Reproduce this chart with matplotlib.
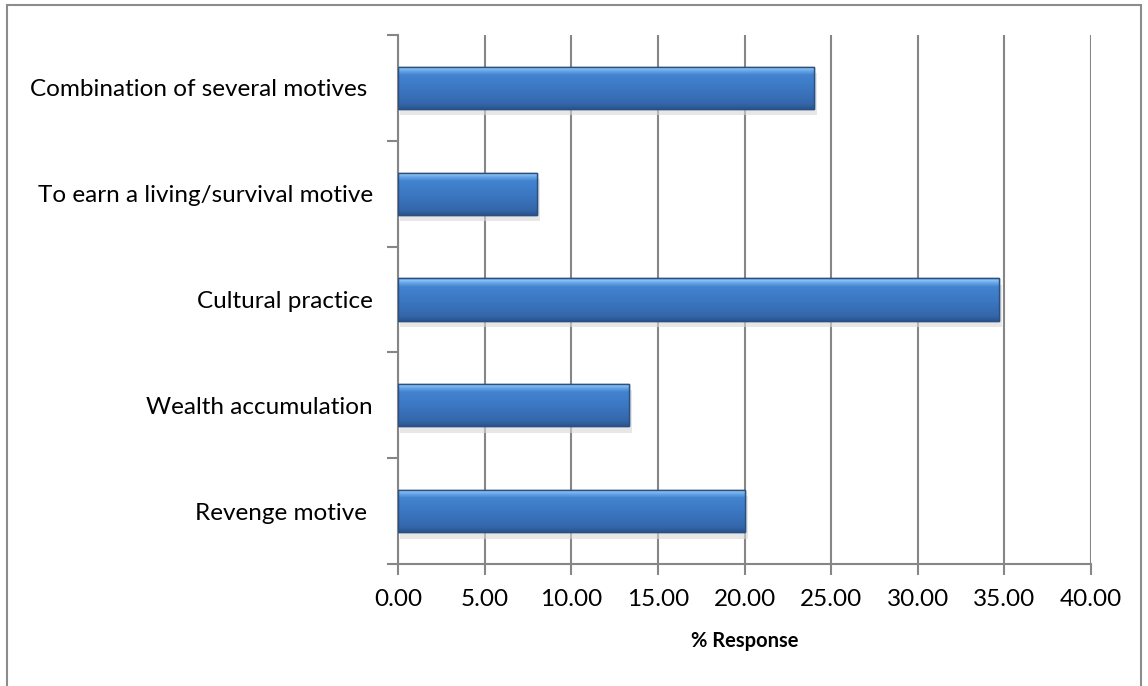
import matplotlib.pyplot as plt
from matplotlib.patches import Rectangle
from matplotlib.colors import LinearSegmentedColormap
import numpy as np

categories = ['Revenge motive ', 'Wealth accumulation', 'Cultural practice',
              'To earn a living/survival motive', 'Combination of several motives ']
values = [20.0, 13.33, 34.67, 8.0, 24.0]
xticks = [0, 5, 10, 15, 20, 25, 30, 35, 40]

plt.rcParams['font.family'] = ['Lato', 'DejaVu Sans']

fig = plt.figure(figsize=(11.48, 6.86), dpi=100)
ax = fig.add_axes([0.3467, 0.178, 0.6037, 0.771])

# outer chart frame like the spreadsheet chart area
fig.patches.append(Rectangle((0.006, -0.05), 0.988, 1.043, transform=fig.transFigure,
                             fill=False, edgecolor='#8c8c8c', lw=1.5))

y = np.arange(len(categories))
bars = ax.barh(y, values, height=0.4, color='#3b76c1', edgecolor='#2b4f80', lw=1, zorder=3)

# vertical gradient (bottom -> top) for the bevelled look
cmap = LinearSegmentedColormap.from_list(
    'bev', [(0.0, '#2a5690'), (0.12, '#3467ab'), (0.45, '#3b76c1'),
            (0.8, '#4283cf'), (0.9, '#6aa8e8'), (0.96, '#8ec6f4'), (1.0, '#5d9ee2')])
grad = np.linspace(0, 1, 64).reshape(-1, 1)
for b in bars:
    x0, y0, w, h = b.get_x(), b.get_y(), b.get_width(), b.get_height()
    ax.add_patch(Rectangle((x0 + 0.1, y0 - 0.06), w + 0.1, h, color='#d8d8d8', alpha=0.6,
                           lw=0, zorder=2))
    im = ax.imshow(grad, cmap=cmap, aspect='auto', extent=(x0, x0 + w, y0, y0 + h),
                   origin='lower', zorder=3.5, vmin=0, vmax=1, interpolation='bilinear')
    im.set_clip_path(b)
    ax.add_patch(Rectangle((x0, y0), w, h, fill=False, edgecolor='#2b4f80', lw=1, zorder=4))

ax.set_xlim(0, 40)
ax.set_ylim(-0.5, len(categories) - 0.5)
ax.set_xticks(xticks)
ax.set_xticklabels(['%.2f' % t for t in xticks], fontsize=17.5)
ax.set_yticks(y)
ax.set_yticklabels(categories, fontsize=17.5)
ax.set_yticks(np.arange(-0.5, len(categories), 1), minor=True)
ax.tick_params(axis='y', which='major', length=0, pad=18)
ax.tick_params(axis='y', which='minor', length=8, width=1.5, color='#868686')
ax.tick_params(axis='x', length=8, width=1.5, color='#868686', direction='out', pad=10)
ax.grid(axis='x', color='#868686', lw=1.5, zorder=0)
ax.set_axisbelow(True)
for s in ['top', 'right']:
    ax.spines[s].set_visible(False)
for s in ['left', 'bottom']:
    ax.spines[s].set_color('#868686')
    ax.spines[s].set_linewidth(1.5)
ax.set_xlabel('% Response', fontsize=14.5, fontweight='bold', labelpad=15)

fig.savefig('out.png', dpi=100)
